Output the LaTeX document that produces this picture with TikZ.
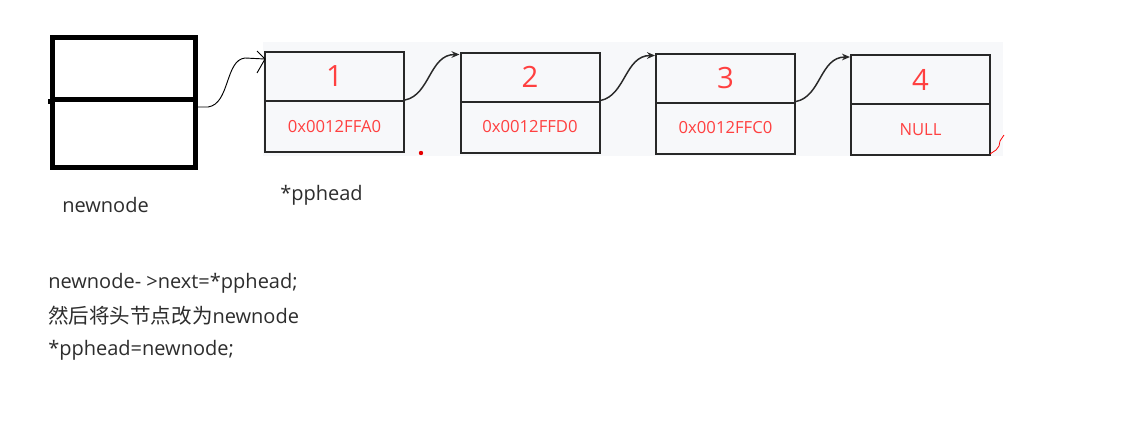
\documentclass[tikz,border=0pt]{standalone}
\usepackage{fontspec}
\setmainfont{Open Sans}
\newfontfamily\cjk{Noto Sans CJK SC}
\usetikzlibrary{arrows.meta}
\definecolor{redtxt}{RGB}{255,64,64}
\definecolor{boxline}{RGB}{40,40,40}
\definecolor{panel}{RGB}{247,248,250}
\definecolor{labeltxt}{RGB}{45,45,45}
\begin{document}
\begin{tikzpicture}[x=0.75pt,y=-0.75pt,
  cell/.style={draw=boxline,line width=1.5pt,fill=panel,inner sep=0pt,minimum width=104.25pt},
  topcell/.style={cell,minimum height=36.75pt,text=redtxt,font=\fontsize{22}{22}\selectfont},
  botcell/.style={cell,minimum height=38.25pt,text=redtxt,font=\fontsize{12.5}{12.5}\selectfont},
  newcell/.style={draw=black,line width=3.75pt,inner sep=0pt,minimum width=107.25pt},
  lbl/.style={text=labeltxt,font=\fontsize{15}{15}\selectfont,inner sep=0pt},
  link/.style={-{Stealth[length=6pt,width=5pt]},line width=1.1pt,draw=boxline}
]
\useasboundingbox (0,0) rectangle (1121,446);
\fill[white] (0,0) rectangle (1121,446);
% light panel
\fill[panel] (263,42) rectangle (1003,156);

% newnode box
\node[newcell,minimum height=46.5pt] (nt) at (123.5,68) {};
\node[newcell,minimum height=51pt] (nb) at (123.5,133) {};
\draw[black,line width=3.75pt] (nt.south west) -- ++(-2,0);

% list cells
\node[topcell] (t1) at (334.5,76.5) {1};
\node[botcell] (u1) at (334.5,126.5) {0x0012FFA0};
\node[topcell] (t2) at (530,77) {2};
\node[botcell] (u2) at (530,127) {0x0012FFD0};
\node[topcell] (t3) at (725.5,78) {3};
\node[botcell] (u3) at (725.5,128) {0x0012FFC0};
\node[topcell] (t4) at (920.5,79.5) {4};
\node[botcell] (u4) at (920.5,129.5) {NULL};

% links
\draw[link] (u1.north east) .. controls ++(25,-5) and ++(-30,0) .. ([yshift=-2.25pt]t2.north west);
\draw[link] (u2.north east) .. controls ++(25,-5) and ++(-30,0) .. ([yshift=-2.25pt]t3.north west);
\draw[link] (u3.north east) .. controls ++(25,-5) and ++(-30,0) .. ([yshift=-2.25pt]t4.north west);

% hand drawn pointer from newnode
\coordinate (hs) at (197,107);
\coordinate (he) at (265,59);
\coordinate (ha) at (257,51);
\coordinate (hb) at (257,73);
\draw[line width=0.7pt,black] (hs) -- (208,107) .. controls (230,104) and (225,60) .. (245,58) -- (he);
\draw[line width=0.7pt,black] (ha) -- (he) -- (hb);

% red marks
\fill[red!90!black] (421,153) circle (2.2);
\draw[red,line width=0.6pt] (990,154) -- (996,150) -- (999,146) -- (1000,141) -- (1004,135);

% labels
\node[lbl,anchor=west] (lnew) at (62,205) {newnode};
\node[lbl,anchor=west] (lph) at (280,195) {*pphead};

\node[lbl,anchor=west] (c1) at (48,283) {newnode- >next=*pphead;};
\node[lbl,anchor=west] (c2) at (48,316) {{\cjk\fontsize{15.4}{15.4}\selectfont 然后将头节点改为}newnode};
\node[lbl,anchor=west] (c3) at (48,350) {*pphead=newnode;};
\end{tikzpicture}
\end{document}
